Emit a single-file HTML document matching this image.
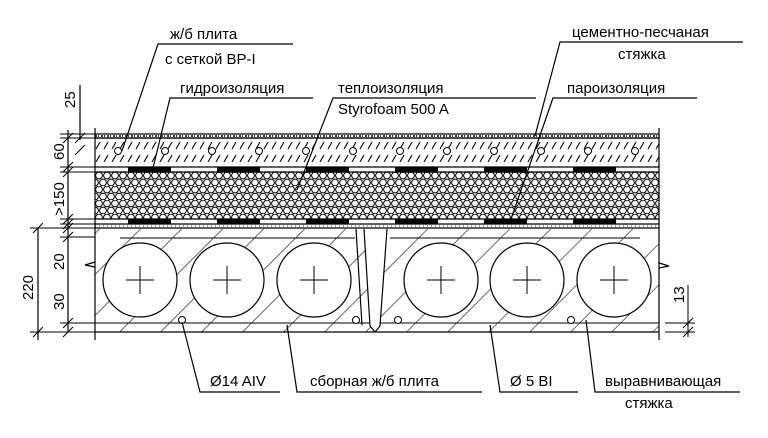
<!DOCTYPE html>
<html><head><meta charset="utf-8"><style>
html,body{margin:0;padding:0;background:#fff;}
svg{display:block;}
text{font-family:"Liberation Sans","DejaVu Sans",sans-serif;font-size:15px;fill:#000;}
</style></head><body>
<svg width="768" height="438" viewBox="0 0 768 438" xmlns="http://www.w3.org/2000/svg">
<defs>
<pattern id="hex" width="8" height="14" patternUnits="userSpaceOnUse" x="95" y="172">
<circle cx="4" cy="3.5" r="3.4" fill="none" stroke="#000" stroke-width="1"/>
<circle cx="0" cy="10.5" r="3.4" fill="none" stroke="#000" stroke-width="1"/>
<circle cx="8" cy="10.5" r="3.4" fill="none" stroke="#000" stroke-width="1"/>
</pattern>
<pattern id="slash" width="8" height="13" patternUnits="userSpaceOnUse" x="95" y="139">
<line x1="1" y1="10" x2="5" y2="3" stroke="#000" stroke-width="1.1"/>
</pattern>
<pattern id="diag" width="29" height="29" patternUnits="userSpaceOnUse" patternTransform="rotate(45)">
<line x1="0" y1="0" x2="0" y2="29" stroke="#000" stroke-width="1.1"/>
</pattern>
<clipPath id="slabclip"><rect x="95" y="229" width="564" height="103"/></clipPath>
</defs>
<g stroke="#000" fill="none" stroke-width="1.2">
<rect x="95" y="134" width="564" height="4" fill="#fff"/>
<line x1="95" y1="136" x2="659" y2="136" stroke-dasharray="2 1 1 2" stroke-width="1.4"/>
<rect x="95" y="138" width="564" height="26" fill="url(#slash)" stroke="none"/>
<line x1="95" y1="138" x2="659" y2="138"/>
<rect x="95" y="172" width="564" height="47" fill="url(#hex)" stroke="none"/>
<line x1="95" y1="167" x2="659" y2="167"/>
<line x1="95" y1="172" x2="659" y2="172"/>
<line x1="95" y1="219" x2="659" y2="219"/>
<line x1="95" y1="224" x2="659" y2="224"/>
<line x1="95" y1="228" x2="659" y2="228"/>
<line x1="95" y1="226" x2="659" y2="226" stroke-dasharray="1 3" stroke-width="0.8"/>
<rect x="95" y="229" width="564" height="103" fill="url(#diag)" clip-path="url(#slabclip)" stroke="none"/>
<line x1="95" y1="332" x2="659" y2="332"/>
<line x1="95" y1="323" x2="659" y2="323" stroke-width="0.9"/>
<line x1="120" y1="238" x2="355" y2="238" stroke-width="0.9"/>
<line x1="390" y1="238" x2="640" y2="238" stroke-width="0.9"/>
<polygon points="358,229 387,229 380,325 375,332 370,325 364,229" fill="#fff" stroke="none"/>
<line x1="356" y1="229" x2="362" y2="325"/>
<line x1="364" y1="229" x2="370" y2="326"/>
<line x1="387" y1="229" x2="380" y2="326"/>
<line x1="370" y1="326" x2="375" y2="332"/>
<line x1="380" y1="326" x2="375" y2="332"/>
<g fill="#fff">
<circle cx="140" cy="280" r="37"/><circle cx="227" cy="280" r="37"/><circle cx="314" cy="280" r="37"/>
<circle cx="441" cy="280" r="37"/><circle cx="527" cy="280" r="37"/><circle cx="614" cy="280" r="37"/>
</g>
<g stroke-width="1">
<path d="M126 280h28M140 266v28M213 280h28M227 266v28M300 280h28M314 266v28M427 280h28M441 266v28M513 280h28M527 266v28M600 280h28M614 266v28"/>
</g>
<g fill="#000" stroke="none">
<rect x="128" y="167" width="43" height="5"/><rect x="217" y="167" width="43" height="5"/><rect x="306" y="167" width="43" height="5"/><rect x="395" y="167" width="43" height="5"/><rect x="484" y="167" width="43" height="5"/><rect x="573" y="167" width="43" height="5"/>
<rect x="128" y="219" width="43" height="5"/><rect x="217" y="219" width="43" height="5"/><rect x="306" y="219" width="43" height="5"/><rect x="395" y="219" width="43" height="5"/><rect x="484" y="219" width="43" height="5"/><rect x="573" y="219" width="43" height="5"/>
</g>
<g fill="#fff" stroke-width="1">
<circle cx="118" cy="151" r="3.5"/><circle cx="165" cy="151" r="3.5"/><circle cx="212" cy="151" r="3.5"/><circle cx="259" cy="151" r="3.5"/><circle cx="306" cy="151" r="3.5"/><circle cx="353" cy="151" r="3.5"/><circle cx="400" cy="151" r="3.5"/><circle cx="447" cy="151" r="3.5"/><circle cx="494" cy="151" r="3.5"/><circle cx="541" cy="151" r="3.5"/><circle cx="588" cy="151" r="3.5"/><circle cx="635" cy="151" r="3.5"/>
<circle cx="182" cy="320" r="3.5"/><circle cx="356" cy="320" r="3.5"/><circle cx="398" cy="320" r="3.5"/><circle cx="571" cy="320" r="3.5"/>
</g>
<line x1="95" y1="128" x2="95" y2="340"/>
<line x1="659" y1="128" x2="659" y2="340"/>
<path d="M95 262l-10 3 10 2" />
<path d="M659 263l10 3-10 2"/>
<line x1="80" y1="85" x2="80" y2="140"/>
<line x1="68" y1="130" x2="68" y2="332"/>
<line x1="38" y1="228" x2="38" y2="340"/>
<g stroke-width="1">
<path d="M60 134h35M60 138h35M60 167h35M60 172h35M60 219h35M60 224h35M60 228h35M60 237h35M60 323h35M30 332h65M30 228h38"/>
<path d="M63 143l10-10M75 143l10-10M75 155l10-10M63 172l10-10M63 177l10-10M63 224l10-10M63 229l10-10M63 233l10-10M63 242l10-10M63 328l10-10M63 337l10-10M33 233l10-10M33 337l10-10"/>
<path d="M665 323h30M665 332h30M688 285v52M683 328l10-10M683 337l10-10"/>
</g>
<path d="M293 44H158L122 151"/>
<path d="M313 98H170L153 168"/>
<path d="M536 98H333L297 190"/>
<path d="M743 42H560L535 136"/>
<path d="M697 98H553L510 222"/>
<path d="M182 322L200 392H280"/>
<path d="M287 325L297 392H482"/>
<path d="M490 325L500 392H578"/>
<path d="M586 320L595 392H740"/>
</g>
<text x="170" y="39" font-size="16">ж/б плита</text>
<text x="165" y="64" font-size="17">с сеткой ВР-I</text>
<text x="180" y="93" font-size="16">гидроизоляция</text>
<text x="338" y="93" font-size="16">теплоизоляция</text>
<text x="338" y="114" font-size="17">Styrofoam 500 A</text>
<text x="572" y="37" font-size="16">цементно-песчаная</text>
<text x="618" y="59" font-size="16">стяжка</text>
<text x="567" y="93" font-size="16">пароизоляция</text>
<text x="210" y="386" font-size="17">Ø14 AIV</text>
<text x="310" y="386" font-size="16">сборная ж/б плита</text>
<text x="510" y="386" font-size="17">Ø 5 BI</text>
<text x="605" y="386" font-size="16">выравнивающая</text>
<text x="625" y="408" font-size="16">стяжка</text>
<g font-size="15">
<text transform="translate(75,108) rotate(-90)">25</text>
<text transform="translate(64,160) rotate(-90)">60</text>
<text transform="translate(64,216) rotate(-90)">&gt;150</text>
<text transform="translate(64,270) rotate(-90)">20</text>
<text transform="translate(64,310) rotate(-90)">30</text>
<text transform="translate(33,300) rotate(-90)">220</text>
<text transform="translate(684,303) rotate(-90)">13</text>
</g>
</svg>
</body></html>
